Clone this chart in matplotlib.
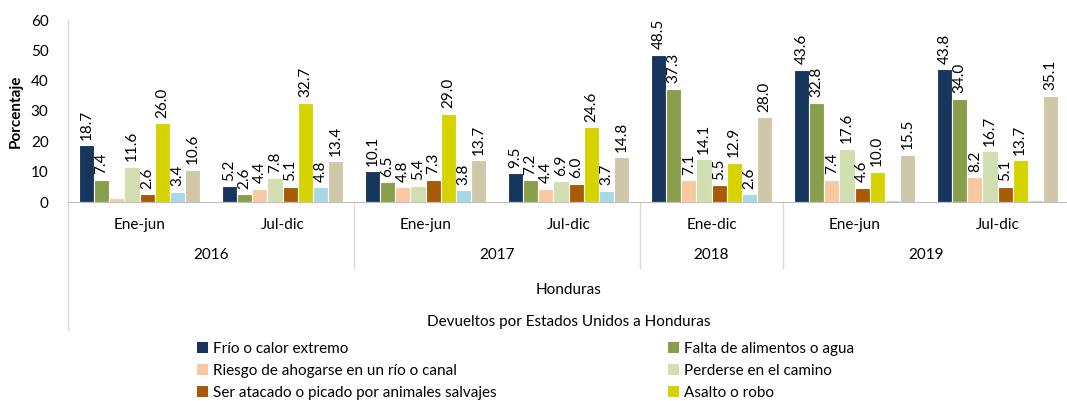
import matplotlib
matplotlib.use("Agg")
import matplotlib.pyplot as plt
import numpy as np
from matplotlib.patches import Patch
from matplotlib.lines import Line2D

plt.rcParams["font.family"] = ["Lato", "DejaVu Sans"]

periods = ["Ene-jun", "Jul-dic", "Ene-jun", "Jul-dic", "Ene-dic", "Ene-jun", "Jul-dic"]
years = ["2016", "2017", "2018", "2019"]
year_spans = [2, 2, 1, 2]

series_names = [
    "Frío o calor extremo",
    "Falta de alimentos o agua",
    "Riesgo de ahogarse en un río o canal",
    "Perderse en el camino",
    "Ser atacado o picado por animales salvajes",
    "Asalto o robo",
    "Accidente",
    "Otro",
]
colors = ["#17365D", "#8A9F4B", "#FAC8A0", "#D2DEAF", "#A85A05", "#D6D300", "#A7D8E6", "#D0C7A9"]

frio = [18.7, 5.2, 10.1, 9.5, 48.5, 43.6, 43.8]
falta = [7.4, 2.6, 6.5, 7.2, 37.3, 32.8, 34.0]
riesgo = [1.4, 4.4, 4.8, 4.4, 7.1, 7.4, 8.2]
perderse = [11.6, 7.8, 5.4, 6.9, 14.1, 17.6, 16.7]
atacado = [2.6, 5.1, 7.3, 6.0, 5.5, 4.6, 5.1]
asalto = [26.0, 32.7, 29.0, 24.6, 12.9, 10.0, 13.7]
accidente = [3.4, 4.8, 3.8, 3.7, 2.6, 0.5, 0.5]
otro = [10.6, 13.4, 13.7, 14.8, 28.0, 15.5, 35.1]
series = [frio, falta, riesgo, perderse, atacado, asalto, accidente, otro]

# (series, group) pairs whose value label is not shown in the original
hidden_labels = {(2, 0), (6, 5), (6, 6)}

W, H = 1067, 401
fig = plt.figure(figsize=(W / 100, H / 100), dpi=100)
ax = fig.add_axes([68 / W, 1 - 202 / H, (1069 - 68) / W, (202 - 20) / H])

x = np.arange(len(periods))
n = len(series)
bw = 0.106
for i, (vals, col, name) in enumerate(zip(series, colors, series_names)):
    pos = x + (i - (n - 1) / 2) * bw
    ax.bar(pos, vals, width=bw, color=col, edgecolor="white", linewidth=0.8, label=name)
    for j, (p, v) in enumerate(zip(pos, vals)):
        if (i, j) in hidden_labels:
            continue
        ax.annotate(f"{v:.1f}", (p, v), xytext=(0, 4), textcoords="offset points",
                    rotation=90, ha="center", va="bottom", fontsize=11, color="black")

ax.set_xlim(-0.5, len(periods) - 0.5)
ax.set_ylim(0, 60)
ax.set_yticks(range(0, 61, 10))
ax.tick_params(axis="y", length=0, labelsize=11, pad=14)
ax.set_xticks([])
for s in ["top", "right", "left"]:
    ax.spines[s].set_visible(False)
ax.spines["bottom"].set_color("#BFBFBF")
ax.set_ylabel("Porcentaje", fontsize=11, fontweight="bold", labelpad=6)

# multi-level category labels
tr = ax.get_xaxis_transform()
for xi, lab in zip(x, periods):
    ax.text(xi, -23 / 182, lab, transform=tr, ha="center", va="center", fontsize=11)
start = 0
for yr, span in zip(years, year_spans):
    ax.text(start + (span - 1) / 2, -53 / 182, yr, transform=tr, ha="center", va="center", fontsize=11)
    start += span
    if start < len(periods):
        ax.add_line(Line2D([start - 0.5, start - 0.5], [0, -66 / 182], transform=tr,
                           color="#D9D9D9", lw=1, clip_on=False))
ax.add_line(Line2D([-0.5, -0.5], [1, -128 / 182], transform=tr, color="#D9D9D9", lw=1, clip_on=False))
ax.text(0.5, -88 / 182, "Honduras", transform=ax.transAxes, ha="center", va="center", fontsize=11)
ax.text(0.5, -120 / 182, "Devueltos por Estados Unidos a Honduras", transform=ax.transAxes,
        ha="center", va="center", fontsize=11)

# only the first three legend rows fit inside the picture
handles = [Patch(facecolor=c) for c in colors]
order = [0, 2, 4, 1, 3, 5]
fig.legend([handles[k] for k in order], [series_names[k] for k in order],
           loc="upper left", bbox_to_anchor=(197 / W, 1 - 342 / H), ncol=2, frameon=False,
           fontsize=11, handlelength=0.75, handleheight=0.75, handletextpad=0.3,
           labelspacing=0.52, columnspacing=11.2, borderpad=0, borderaxespad=0)

fig.savefig("out.png", dpi=100)
